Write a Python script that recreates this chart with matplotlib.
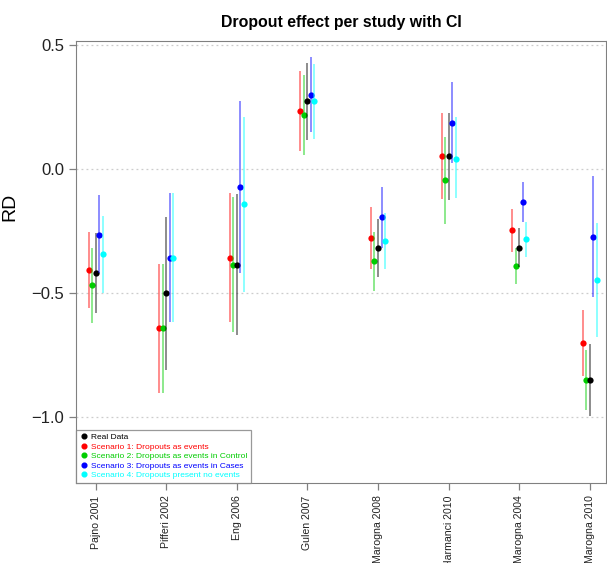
import numpy as np
import matplotlib.pyplot as plt
from matplotlib.lines import Line2D

plt.rcParams['font.family'] = ['Liberation Sans', 'DejaVu Sans']

studies = ["Pajno 2001", "Pifferi 2002", "Eng 2006", "Gulen 2007",
           "Marogna 2008", "Harmanci 2010", "Marogna 2004", "Marogna 2010"]

# estimates and confidence limits per scenario
real_est = [-0.42, -0.50, -0.385, 0.274, -0.318, 0.052, -0.318, -0.85]
real_lo = [-0.58, -0.808, -0.669, 0.117, -0.436, -0.125, -0.395, -0.996]
real_hi = [-0.259, -0.192, -0.10, 0.429, -0.201, 0.224, -0.239, -0.704]

s1_est = [-0.406, -0.642, -0.357, 0.233, -0.278, 0.053, -0.247, -0.701]
s1_lo = [-0.56, -0.902, -0.618, 0.072, -0.403, -0.122, -0.333, -0.835]
s1_hi = [-0.253, -0.383, -0.095, 0.394, -0.152, 0.226, -0.162, -0.567]

s2_est = [-0.468, -0.642, -0.385, 0.218, -0.371, -0.044, -0.389, -0.85]
s2_lo = [-0.621, -0.902, -0.657, 0.056, -0.49, -0.222, -0.464, -0.969]
s2_hi = [-0.317, -0.383, -0.114, 0.378, -0.255, 0.13, -0.319, -0.731]

s3_est = [-0.264, -0.357, -0.071, 0.30, -0.194, 0.186, -0.133, -0.274]
s3_lo = [-0.42, -0.618, -0.417, 0.148, -0.318, 0.023, -0.214, -0.516]
s3_hi = [-0.105, -0.098, 0.275, 0.452, -0.074, 0.349, -0.051, -0.03]

s4_est = [-0.343, -0.357, -0.142, 0.274, -0.291, 0.04, -0.283, -0.448]
s4_lo = [-0.50, -0.618, -0.494, 0.119, -0.402, -0.118, -0.354, -0.677]
s4_hi = [-0.189, -0.098, 0.21, 0.422, -0.178, 0.21, -0.212, -0.218]

labels = ["Real Data", "Scenario 1: Dropouts as events",
          "Scenario 2: Dropouts as events in Control",
          "Scenario 3: Dropouts as events in Cases",
          "Scenario 4: Dropouts present no events"]

series = [
    (s1_est, s1_lo, s1_hi, "#ff0000", -0.1),
    (s2_est, s2_lo, s2_hi, "#00cd00", -0.05),
    (real_est, real_lo, real_hi, "#000000", 0.0),
    (s3_est, s3_lo, s3_hi, "#0000ff", 0.05),
    (s4_est, s4_lo, s4_hi, "#00ffff", 0.1),
]

fig = plt.figure(figsize=(6.07, 5.63), dpi=100)
ax = fig.add_axes([0.1252, 0.1421, 0.873, 0.7856])

x = np.arange(1, len(studies) + 1)
for est, lo, hi, col, off in series:
    ax.vlines(x + off, lo, hi, color=col, alpha=0.45, lw=1.4)
    ax.plot(x + off, est, 'o', color=col, ms=4.5, mec='none')

ax.set_xlim(0.72, 8.23)
ax.set_ylim(-1.265, 0.517)
ax.set_yticks([-1.0, -0.5, 0.0, 0.5])
ax.set_yticklabels(["\u22121.0", "\u22120.5", "0.0", "0.5"], fontsize=12)
ax.set_xticks(x)
ax.set_xticklabels(studies, rotation=90, fontsize=7.6)
for yv in [-1.0, -0.5, 0.0, 0.5]:
    ax.axhline(yv, color='#cccccc', lw=0.9, ls=(0, (1.5, 2.5)), zorder=0)

for s in ax.spines.values():
    s.set_color('#808080')
ax.tick_params(colors='#808080', labelcolor='#222222', length=5, width=0.9)
ax.tick_params(axis='x', pad=4)

ax.set_title("Dropout effect per study with CI", fontsize=11.4, fontweight='bold', pad=10)
ax.set_ylabel("RD", fontsize=14)
ax.yaxis.set_label_coords(-0.108, 0.624)

cols = ["#000000", "#ff0000", "#00cd00", "#0000ff", "#00ffff"]
handles = [Line2D([], [], ls='none', marker='o', color=c, ms=3.4) for c in cols]
leg = ax.legend(handles, labels, loc='lower left', fontsize=6.0, frameon=True,
                fancybox=False, borderaxespad=0, handletextpad=0.3,
                handlelength=1.0, labelspacing=0.2, borderpad=0.45,
                labelcolor=cols)
leg.get_frame().set_edgecolor('#808080')
leg.get_frame().set_linewidth(0.9)

fig.savefig("out.png", dpi=100)
